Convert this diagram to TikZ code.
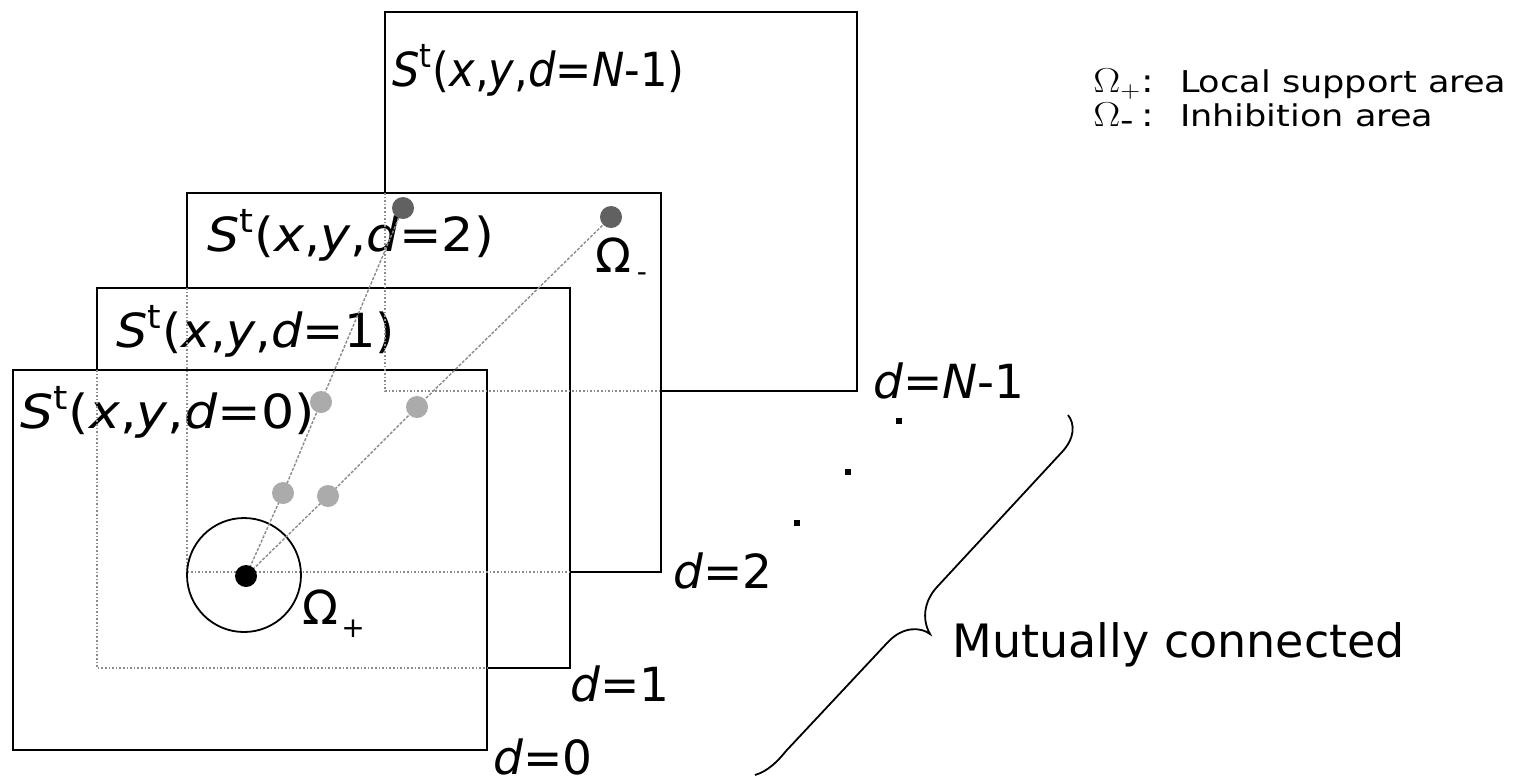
\documentclass[tikz,border=0pt]{standalone}
\usepackage{fontspec}
\usepackage{graphicx}
\setmainfont{DejaVu Sans}
\begin{document}
\begin{tikzpicture}[x=0.5pt,y=-0.5pt,
  box/.style={draw=black,line width=1pt,fill=white},
  hid/.style={draw=black!45,line width=0.8pt,densely dotted},
  link/.style={draw=black!45,line width=0.7pt,dash pattern=on 1.5pt off 0.8pt},
  lbl/.style={font=\fontsize{23.5}{28}\selectfont,inner sep=0pt,anchor=base west},
  sublbl/.style={font=\fontsize{14}{14}\selectfont,inner sep=0pt},
  leg/.style={font=\fontsize{15}{17}\selectfont,inner sep=0pt,anchor=base west},
  ddot/.style={circle,inner sep=0pt,minimum size=11pt,fill=black!62},
  ldot/.style={circle,inner sep=0pt,minimum size=11pt,fill=black!33},
  bdot/.style={circle,inner sep=0pt,minimum size=11pt,fill=black},
  ring/.style={circle,draw=black,line width=0.9pt,inner sep=0pt,minimum size=57pt},
  period/.style={rectangle,fill=black,inner sep=0pt,minimum size=3pt},
  bracep/.style={draw=black,line width=0.9pt}
]
\useasboundingbox (0,0) rectangle (1529,783);

% layers, back to front
\path[box] (385,12) rectangle (857,391);
\node[lbl] (sN) at (392,86) {\scalebox{0.92}[1]{\textit{S}\textsuperscript{t}(\textit{x},\textit{y},\textit{d}=\textit{N}-1)}};
\path[box] (187,193) rectangle (661,572);
\node[lbl] (s2) at (207,251) {\scalebox{1.08}[1]{\textit{S}\textsuperscript{t}(\textit{x},\textit{y},\textit{d}=2)}};
\path[box] (97,288) rectangle (570,668);
\node[lbl] (s1) at (116,347) {\scalebox{1.05}[1]{\textit{S}\textsuperscript{t}(\textit{x},\textit{y},\textit{d}=1)}};
\path[box] (13,370) rectangle (487,750);
\node[lbl] (s0) at (20,428) {\scalebox{1.11}[1]{\textit{S}\textsuperscript{t}(\textit{x},\textit{y},\textit{d}=0)}};

% hidden edges
\draw[hid] (385,193) -- (385,391) -- (661,391);
\draw[hid] (187,288) -- (187,572) -- (570,572);
\draw[hid] (97,370) -- (97,668) -- (487,668);

% support circle
\node[ring] (cplus) at (244,575) {};

% positions of the pixels in each layer
\coordinate (p0) at (246,576);
\coordinate (pa1) at (283,493);
\coordinate (pa2) at (321,402);
\coordinate (pa3) at (403,208);
\coordinate (pb1) at (328,496);
\coordinate (pb2) at (417,407);
\coordinate (pb3) at (611,217);
\draw[link] (p0) -- (pa1) -- (pa2) -- (pa3);
\draw[link] (p0) -- (pb1) -- (pb2) -- (pb3);
\node[ldot] (a1) at (pa1) {};
\node[ldot] (a2) at (pa2) {};
\node[ddot] (a3) at (pa3) {};
\node[ldot] (b1) at (pb1) {};
\node[ldot] (b2) at (pb2) {};
\node[ddot] (b3) at (pb3) {};
\node[bdot] (c0) at (p0) {};

% omega labels
\node[lbl] (op) at (302,624) {Ω};
\node[sublbl] (opp) at (353,629) {+};
\node[lbl] (om) at (595,272) {Ω};
\node[sublbl] (omm) at (642,277) {-};

% layer names
\node[lbl] (dN) at (873,398) {\textit{d}=\textit{N}-1};
\node[lbl] (d2) at (673,588) {\textit{d}=2};
\node[lbl] (d1) at (570,701) {\textit{d}=1};
\node[lbl] (d0) at (493,774) {\textit{d}=0};

% ellipsis dots
\node[period] (e1) at (899,421) {};
\node[period] (e2) at (848,472) {};
\node[period] (e3) at (797,523) {};

% brace
\draw[bracep] (1068,415) .. controls (1075,424) and (1075,438) .. (1062,452)
  -- (937,587) .. controls (925,600) and (921,618) .. (930,634)
  .. controls (921,627) and (903,626) .. (888,642)
  -- (786,751) .. controls (777,762) and (768,771) .. (755,775);
\node[lbl,font=\fontsize{23}{28}\selectfont] (mc) at (952,657) {Mutually connected};

% legend
\node[leg] (l1) at (1093,92) {\scalebox{1.17}[1]{\makebox[37pt][l]{\fontsize{16}{16}\selectfont$\Omega_{+}$:}Local support area}};
\node[leg] (l2) at (1093,126) {\scalebox{1.17}[1]{\makebox[37pt][l]{\fontsize{16}{16}\selectfont$\Omega_{\mbox{-}}$\,:}Inhibition area}};
\end{tikzpicture}
\end{document}
